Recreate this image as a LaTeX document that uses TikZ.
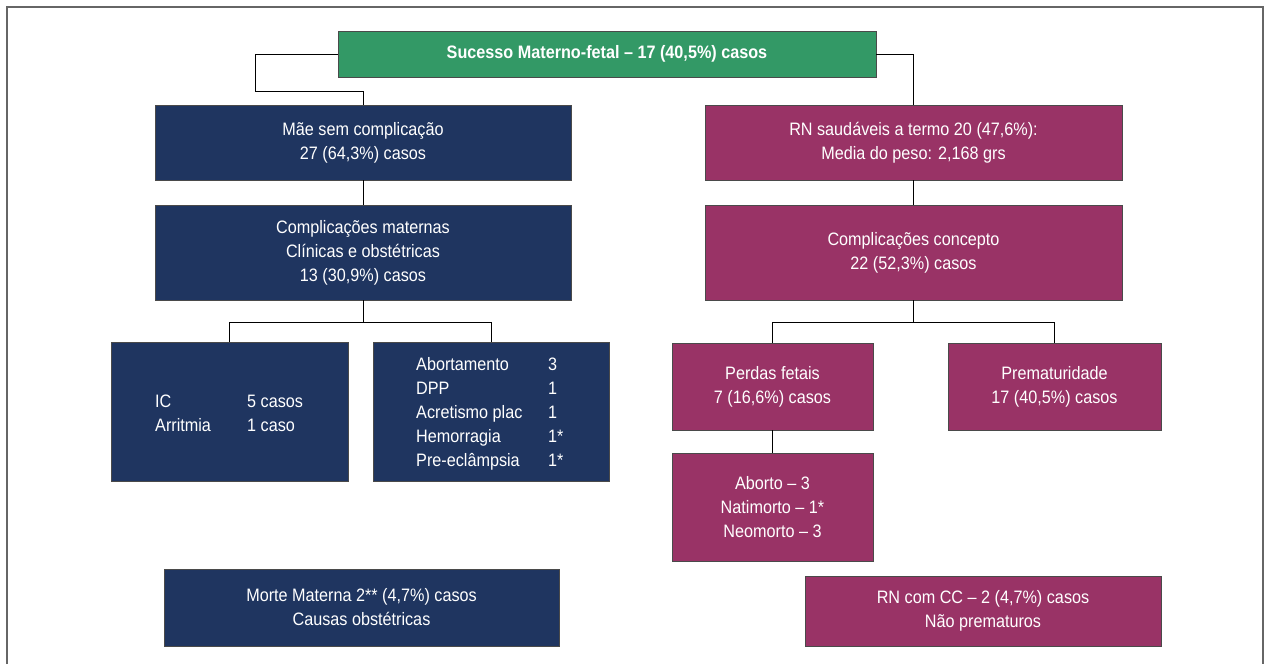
\documentclass[tikz,border=0pt]{standalone}
\usepackage{fontspec}
\setmainfont{Liberation Sans}[FakeStretch=0.9]
\definecolor{navy}{HTML}{1F3560}
\definecolor{maroon}{HTML}{993366}
\definecolor{sgreen}{HTML}{339966}
\definecolor{edge}{HTML}{4A4A4A}
\tikzset{
  box/.style={draw=edge, line width=0.9pt, text=white, align=center, inner sep=0pt,
    font=\fontsize{18}{24}\selectfont},
  navybox/.style={box, fill=navy},
  maroonbox/.style={box, fill=maroon},
  greenbox/.style={box, fill=sgreen, font=\fontsize{18}{24}\selectfont\bfseries},
  cell/.style={text=white, anchor=base west, inner sep=0pt, font=\fontsize{18}{24}\selectfont},
  conn/.style={draw=black, line width=0.8pt},
}
\begin{document}
\begin{tikzpicture}[x=1pt,y=-1pt]
\useasboundingbox (0,0) rectangle (1266,664);
\draw[draw=gray!80!black, line width=1.2pt] (7,664) -- (7,7) -- (1263,7) -- (1263,664);

\node[greenbox, minimum width=538pt, minimum height=46pt] (green) at (607,54) {Sucesso Materno-fetal – 17 (40,5\%) casos};

\node[navybox, minimum width=416pt, minimum height=75pt] (mae) at (363,142.5) {Mãe sem complicação\\27 (64,3\%) casos};
\node[maroonbox, minimum width=417pt, minimum height=75pt] (rn) at (913.5,142.5) {RN saudáveis a termo 20 (47,6\%):\\Media do peso: 2,168 grs};

\node[navybox, minimum width=416pt, minimum height=95pt] (cm) at (363,252.5) {Complicações maternas\\Clínicas e obstétricas\\13 (30,9\%) casos};
\node[maroonbox, minimum width=417pt, minimum height=95pt] (cc) at (913.5,252.5) {Complicações concepto\\22 (52,3\%) casos};

\node[navybox, minimum width=237pt, minimum height=139pt] (ic) at (229.5,411.5) {};
\node[navybox, minimum width=236pt, minimum height=139pt] (ab) at (491,411.5) {};

\node[cell] (t1a) at (155,407) {IC};
\node[cell] (t1b) at (247,407) {5 casos};
\node[cell] (t2a) at (155,431) {Arritmia};
\node[cell] (t2b) at (247,431) {1 caso};

\node[cell] (u1a) at (416,370) {Abortamento};
\node[cell] (u1b) at (548,370) {3};
\node[cell] (u2a) at (416,394) {DPP};
\node[cell] (u2b) at (548,394) {1};
\node[cell] (u3a) at (416,418) {Acretismo plac};
\node[cell] (u3b) at (548,418) {1};
\node[cell] (u4a) at (416,442) {Hemorragia};
\node[cell] (u4b) at (548,442) {1*};
\node[cell] (u5a) at (416,466) {Pre-eclâmpsia};
\node[cell] (u5b) at (548,466) {1*};

\node[maroonbox, minimum width=201pt, minimum height=87pt] (pf) at (772.5,386.5) {Perdas fetais\\7 (16,6\%) casos};
\node[maroonbox, minimum width=213pt, minimum height=87pt] (pr) at (1054.5,386.5) {Prematuridade\\17 (40,5\%) casos};
\node[maroonbox, minimum width=201pt, minimum height=108pt] (ao) at (772.5,507) {Aborto – 3\\Natimorto – 1*\\Neomorto – 3};

\node[navybox, minimum width=395pt, minimum height=77pt] (mm) at (361.5,607.5) {Morte Materna 2** (4,7\%) casos\\Causas obstétricas};
\node[maroonbox, minimum width=356pt, minimum height=70pt] (rncc) at (983,611) {RN com CC – 2 (4,7\%) casos\\Não prematuros};

\coordinate (j1) at (255,91);
\coordinate (jl) at (363,322);
\coordinate (jr) at (913.5,322);
\draw[conn] (green.west) -| (j1) -| (mae.north);
\draw[conn] (green.east) -| (rn.north);
\draw[conn] (mae.south) -- (cm.north);
\draw[conn] (rn.south) -- (cc.north);
\draw[conn] (cm.south) -- (jl);
\draw[conn] (jl) -| (ic.north);
\draw[conn] (jl) -| (ab.north);
\draw[conn] (cc.south) -- (jr);
\draw[conn] (jr) -| (pf.north);
\draw[conn] (jr) -| (pr.north);
\draw[conn] (pf.south) -- (ao.north);
\end{tikzpicture}
\end{document}
